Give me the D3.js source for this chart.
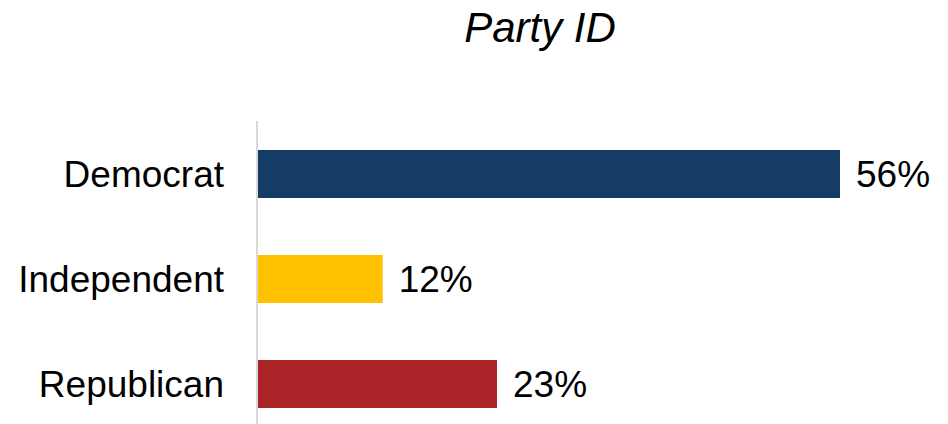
<!DOCTYPE html>
<html lang="en">
<head>
  <meta charset="utf-8" />
  <title>Party ID</title>
  <script src="https://cdn.jsdelivr.net/npm/d3@7"></script>
  <style>
    body { margin: 0; background: #fff; }
    text { font-family: "Liberation Sans", Arial, sans-serif; fill: #000; }
  </style>
</head>
<body>
  <script type="text/javascript">
    // chart data
    var parties = ["Democrat", "Independent", "Republican"];
    var shares = [56, 12, 23];
    var barColors = ["#153b67", "#ffc000", "#ab2428"];

    var width = 948, height = 424;

    var svg = d3.select("body").append("svg")
      .attr("width", width)
      .attr("height", height);

    var x = d3.scaleLinear().domain([0, 56]).range([258, 840]);
    var y = d3.scaleBand().domain(parties)
      .range([121.5, 436.5])
      .paddingInner(0.543)
      .paddingOuter(0.2715);

    svg.append("text")
      .attr("x", 540)
      .attr("y", 42)
      .attr("text-anchor", "middle")
      .style("font-size", "42px")
      .style("font-style", "italic")
      .text("Party ID");

    // vertical axis line
    svg.append("line")
      .attr("x1", x(0) - 1).attr("x2", x(0) - 1)
      .attr("y1", 121).attr("y2", height)
      .attr("stroke", "#d9d9d9")
      .attr("stroke-width", 2);

    var rows = svg.append("g").selectAll("g")
      .data(parties)
      .enter().append("g");

    rows.append("rect")
      .attr("x", x(0))
      .attr("y", function(d) { return y(d); })
      .attr("width", function(d, i) { return x(shares[i]) - x(0); })
      .attr("height", y.bandwidth())
      .attr("fill", function(d, i) { return barColors[i]; });

    rows.append("text")
      .attr("x", 224)
      .attr("y", function(d) { return y(d) + y.bandwidth() / 2; })
      .attr("dy", "0.34em")
      .attr("text-anchor", "end")
      .style("font-size", "37px")
      .text(function(d) { return d; });

    rows.append("text")
      .attr("x", function(d, i) { return x(shares[i]) + 16; })
      .attr("y", function(d) { return y(d) + y.bandwidth() / 2; })
      .attr("dy", "0.34em")
      .style("font-size", "37px")
      .text(function(d, i) { return shares[i] + "%"; });
  </script>
</body>
</html>
